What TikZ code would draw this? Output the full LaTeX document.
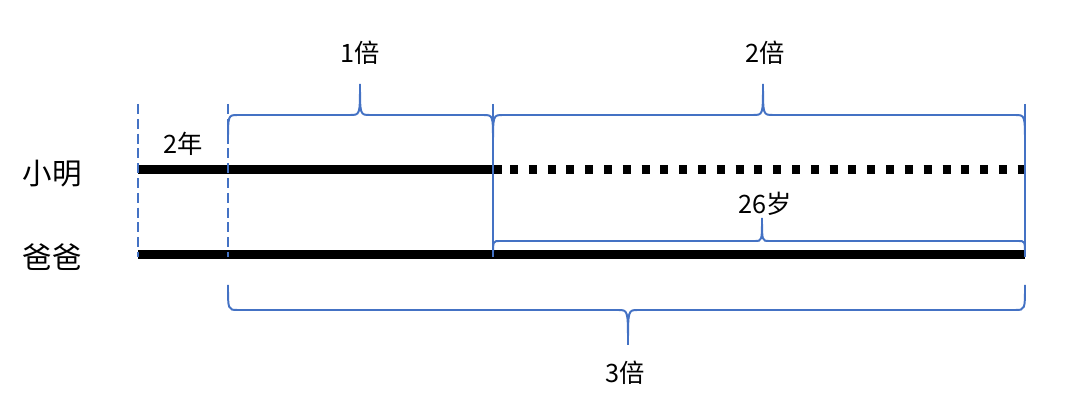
\documentclass[tikz,border=0pt]{standalone}
\usepackage{fontspec}
\usepackage{xcolor}
\usepackage{tikz}
\usetikzlibrary{positioning, calc}
\setmainfont{Noto Sans CJK SC}
\definecolor{lineblue}{HTML}{4472C4}

\begin{document}
\begin{tikzpicture}[x=0.025cm, y=-0.025cm,
        bar/.style={line width=6.4pt},
        guide/.style={lineblue, line width=1.4pt},
        dashguide/.style={guide, dash pattern=on 0.25cm off 0.12cm},
        bracket/.style={lineblue, line width=1.4pt},
        who/.style={font=\fontsize{21}{24}\selectfont},
        lbl/.style={font=\fontsize{18}{20}\selectfont}]
        \useasboundingbox (0,0) rectangle (1080,406);
        \coordinate (mStart) at (138,170);
        \coordinate (mNow)   at (502,170);
        \coordinate (mDot)   at (510,170);
        \coordinate (mEnd)   at (1025,170);
        \coordinate (bStart) at (138,255);
        \coordinate (bEnd)   at (1025,255);
        \draw[bar] (mStart) -- (mNow);
        \draw[bar, dash pattern=on 0.2cm off 0.27cm] (mDot) -- (mEnd);
        \draw[bar] (bStart) -- (bEnd);
        \foreach \x/\sty in {138/dashguide, 228/dashguide, 493/guide, 1025/guide} {
            \draw[\sty] (\x,104) -- (\x,257);
        }
        \foreach \xa/\xm/\xb/\yb/\ye/\yt/\w in {228/360/493/115/142/84/10, 493/763/1025/115/145/84/10,
                493/762/1025/241/255/218/7, 228/628/1025/310/285/345/10} {
            \draw[bracket] (\xa,\ye) .. controls (\xa,\yb) .. (\xa+\w,\yb) -- (\xm-\w,\yb)
                .. controls (\xm,\yb) .. (\xm,\yt) .. controls (\xm,\yb) .. (\xm+\w,\yb)
                -- (\xb-\w,\yb) .. controls (\xb,\yb) .. (\xb,\ye);
        }
        \node[who] (ming)   at (52,174)  {小明};
        \node[who] (baba)   at (52,257)  {爸爸};
        \node[lbl] (gap)    at (183,144) {2年};
        \node[lbl] (once)   at (360,53)  {1倍};
        \node[lbl] (twice)  at (765,53)  {2倍};
        \node[lbl] (age)    at (765,204) {26岁};
        \node[lbl] (thrice) at (625,373) {3倍};
    \end{tikzpicture}
\end{document}
